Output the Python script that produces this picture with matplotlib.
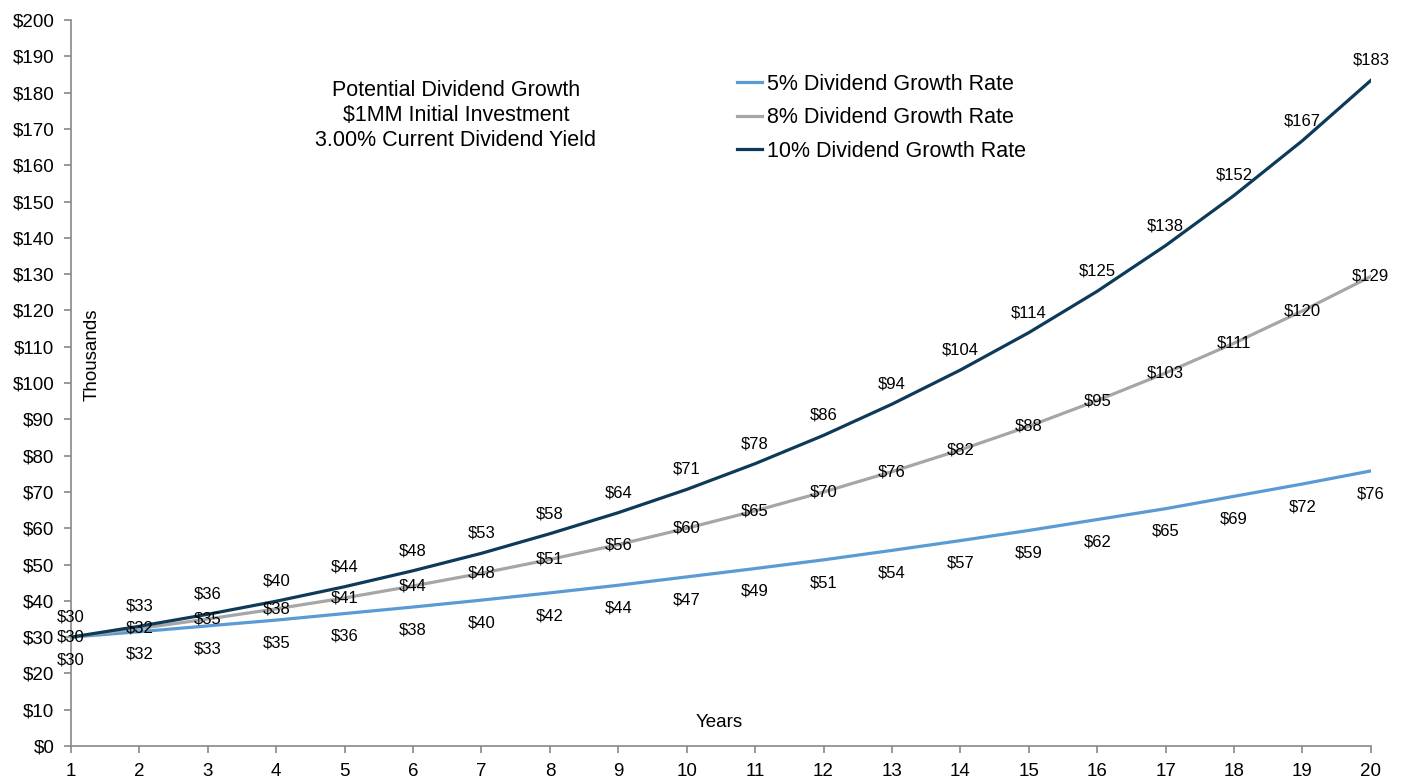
import matplotlib
matplotlib.use("Agg")
import matplotlib.pyplot as plt

plt.rcParams['font.family'] = ['Liberation Sans', 'DejaVu Sans']

# data (thousands of dollars)
years = list(range(1, 21))
g5 = [30.0, 31.5, 33.1, 34.7, 36.5, 38.3, 40.2, 42.2, 44.3, 46.6,
      48.9, 51.3, 53.9, 56.6, 59.4, 62.4, 65.4, 68.8, 72.2, 75.8]
g8 = [30.0, 32.4, 35.0, 37.8, 40.8, 44.1, 47.6, 51.4, 55.5, 60.0,
      64.8, 70.0, 75.6, 81.6, 88.1, 95.2, 102.8, 111.0, 119.9, 129.4]
g10 = [30.0, 33.0, 36.3, 39.9, 43.9, 48.3, 53.1, 58.5, 64.3, 70.7,
       77.8, 85.6, 94.2, 103.6, 113.9, 125.3, 137.9, 151.7, 166.8, 183.4]
names = ['5% Dividend Growth Rate', '8% Dividend Growth Rate', '10% Dividend Growth Rate']

fig = plt.figure(figsize=(14.03, 7.78), dpi=100)
ax = fig.add_axes([0.0506, 0.0411, 0.9265, 0.933])

ax.plot(years, g5, color='#5B9BD5', lw=2.3, label=names[0])
ax.plot(years, g8, color='#A6A6A6', lw=2.3, label=names[1])
ax.plot(years, g10, color='#0D3A58', lw=2.3, label=names[2])

# data labels
for x, a, b, c in zip(years, g5, g8, g10):
    ax.annotate('$%d' % round(a), (x, a), xytext=(0, -11), textcoords='offset points',
                ha='center', va='top', fontsize=12)
    ax.annotate('$%d' % round(b), (x, b), ha='center', va='center', fontsize=12)
    ax.annotate('$%d' % round(c), (x, c), xytext=(0, 9), textcoords='offset points',
                ha='center', va='bottom', fontsize=12)

ax.set_xlim(1, 20)
ax.set_ylim(0, 200)
ax.set_xticks(years)
ax.set_yticks(range(0, 201, 10))
ax.set_yticklabels(['$%d' % v for v in range(0, 201, 10)])
ax.tick_params(labelsize=13.5, color='#888888', length=5, width=1.2, pad=7)
for s in ['top', 'right']:
    ax.spines[s].set_visible(False)
for s in ['left', 'bottom']:
    ax.spines[s].set_color('#888888')
    ax.spines[s].set_linewidth(1.2)

ax.text(0.016, 0.5386, 'Thousands', transform=ax.transAxes, rotation=90,
        ha='center', va='center', fontsize=13.5)
ax.text(0.499, 0.033, 'Years', transform=ax.transAxes, ha='center', va='center', fontsize=13.5)
ax.text(0.296, 0.869, 'Potential Dividend Growth\n$1MM Initial Investment\n3.00% Current Dividend Yield',
        transform=ax.transAxes, ha='center', va='center', fontsize=15.5, linespacing=1.25)

ax.legend(loc='upper left', bbox_to_anchor=(0.512, 0.926), frameon=False, fontsize=15.5,
          borderpad=0, borderaxespad=0, handlelength=1.2, handletextpad=0.2, labelspacing=0.58)

fig.savefig('out.png', dpi=100)
